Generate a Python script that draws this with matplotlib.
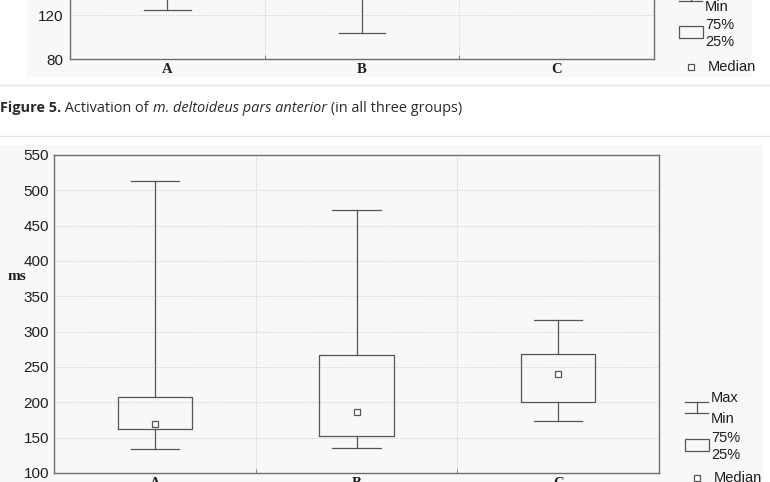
import matplotlib
matplotlib.use("Agg")
import matplotlib.pyplot as plt
from matplotlib.lines import Line2D
from matplotlib.patches import Rectangle

plt.rcParams["font.family"] = ["Liberation Sans", "DejaVu Sans"]

# DATA
groups = ["A", "B", "C"]

# upper chart (only its lower part is visible in the page screenshot)
top_min = [125, 104, 138]
top_q1 = [160, 150, 170]
top_med = [175, 170, 185]
top_q3 = [200, 195, 210]
top_max = [260, 280, 240]
top_yticks = [80, 120]

# Figure 5: m. deltoideus pars anterior, ms
del_min = [134, 135, 174]
del_q1 = [162, 152, 200]
del_med = [170, 187, 240]
del_q3 = [207, 267, 269]
del_max = [513, 472, 316]
del_yticks = [100, 150, 200, 250, 300, 350, 400, 450, 500, 550]

caption_parts = [("Figure 5.", "bold", "normal"),
                 (" Activation of ", "normal", "normal"),
                 ("m. deltoideus pars anterior", "normal", "italic"),
                 (" (in all three groups)", "normal", "normal")]

W, H = 770, 482
fig = plt.figure(figsize=(W / 100, H / 100), dpi=100)
fig.patch.set_facecolor("white")

LINE = "#555555"
SPINE = "#6e6e6e"
GRID = "#c8c8c8"
PANEL = "#f8f8f8"
TEXT = "#1e1e1e"


def fx(x):
    return x / W


def fy(y):
    return 1 - y / H


# page panels and separators
fig.patches.append(Rectangle((fx(27), fy(77)), fx(752 - 27), 1, transform=fig.transFigure,
                             facecolor=PANEL, edgecolor="none", zorder=-2))
fig.patches.append(Rectangle((0, 0), fx(763), fy(145), transform=fig.transFigure,
                             facecolor=PANEL, edgecolor="none", zorder=-2))
for yy in (85, 136):
    fig.add_artist(Line2D([0, 1], [fy(yy), fy(yy)], color="#e3e3e3", lw=1.0))


def box_chart(ax, lo, q1, med, q3, hi, yticks, ylim, pad):
    stats = [dict(whislo=a, q1=b, med=c, q3=d, whishi=e, fliers=[])
             for a, b, c, d, e in zip(lo, q1, med, q3, hi)]
    pos = list(range(len(groups)))
    ax.bxp(stats, positions=pos, widths=0.37, capwidths=0.24, showfliers=False,
           boxprops=dict(color=LINE, lw=0.9), whiskerprops=dict(color=LINE, lw=0.9),
           capprops=dict(color=LINE, lw=0.9), medianprops=dict(lw=0))
    ax.plot(pos, med, "s", ms=5, mfc="white", mec=LINE, mew=0.9, zorder=5)
    ax.set_xlim(-0.5, len(groups) - 0.5)
    ax.set_ylim(*ylim)
    ax.set_yticks(yticks)
    ax.set_xticks(pos)
    ax.set_xticklabels(groups, family="Liberation Serif", fontweight="bold", fontsize=10.5)
    ax.set_xticks([0.5, 1.5], minor=True)
    ax.tick_params(axis="x", which="major", length=0, pad=3, colors=TEXT)
    ax.tick_params(axis="x", which="minor", length=3, direction="in", color=SPINE)
    ax.tick_params(axis="y", length=0, pad=pad, labelsize=11, colors=TEXT)
    ax.grid(axis="y", which="major", ls=":", color=GRID, lw=0.7)
    ax.grid(axis="x", which="minor", ls=":", color=GRID, lw=0.7)
    ax.set_axisbelow(True)
    ax.set_facecolor("none")
    for s in ax.spines.values():
        s.set_color(SPINE)
        s.set_linewidth(1.0)


# upper chart: y=80 at px 59.3, 1.1 px per unit
top_h = (200 - 80) * 1.1
ax_top = fig.add_axes([fx(70), fy(59.3), fx(654 - 70), top_h / H])
box_chart(ax_top, top_min, top_q1, top_med, top_q3, top_max, top_yticks, (80, 200), 5)
ax_top.set_yticks([160, 200], minor=True)
ax_top.grid(axis="y", which="minor", ls=":", color=GRID, lw=0.7)
ax_top.tick_params(axis="y", which="minor", length=0)

# lower chart
ax = fig.add_axes([fx(54), fy(473), fx(659 - 54), (473 - 155) / H])
box_chart(ax, del_min, del_q1, del_med, del_q3, del_max, del_yticks, (100, 550), 3.6)
fig.text(fx(8), fy(277), "ms", family="Liberation Serif", fontweight="bold",
         fontsize=11, va="center", ha="left", color=TEXT)


def legend(x0, y_max, y_min, y_box, y_med):
    kw = dict(color=LINE, lw=0.9)
    for yy in (y_max, y_min):
        fig.add_artist(Line2D([fx(x0), fx(x0 + 23)], [fy(yy), fy(yy)], **kw))
    fig.add_artist(Line2D([fx(x0 + 12), fx(x0 + 12)], [fy(y_max), fy(y_min)], **kw))
    fig.patches.append(Rectangle((fx(x0), fy(y_box + 12)), fx(24), 12 / H,
                                 transform=fig.transFigure, facecolor="none",
                                 edgecolor=LINE, lw=0.9))
    fig.add_artist(Line2D([fx(x0 + 12)], [fy(y_med)], marker="s", ms=5, mfc="white",
                          mec=LINE, mew=0.9, ls="none"))
    tk = dict(fontsize=10.5, va="center", ha="left", color=TEXT)
    if y_max > 5:
        fig.text(fx(x0 + 26), fy(y_max - 4), "Max", **tk)
    fig.text(fx(x0 + 26), fy(y_min + 6), "Min", **tk)
    fig.text(fx(x0 + 26), fy(y_box - 1), "75%", **tk)
    fig.text(fx(x0 + 26), fy(y_box + 16), "25%", **tk)
    fig.text(fx(x0 + 29), fy(y_med), "Median", **tk)


legend(679, -11, 1, 26, 67)
legend(685, 401.7, 413.3, 439, 478)

# caption, sized to span the same width as in the page
renderer = fig.canvas.get_renderer()


def put_caption(size, x_start, y):
    x = x_start
    made = []
    for s, wt, st in caption_parts:
        t = fig.text(fx(x), fy(y), s, family="Open Sans", fontsize=size, fontweight=wt,
                     fontstyle=st, va="center", ha="left", color="#2a2a2a")
        made.append(t)
        x += t.get_window_extent(renderer).width
    return x - x_start, made


width, tmp = put_caption(10, 0, 108)
for t in tmp:
    t.remove()
put_caption(10 * 462 / width, 0, 108)

fig.savefig("out.png", dpi=100)
